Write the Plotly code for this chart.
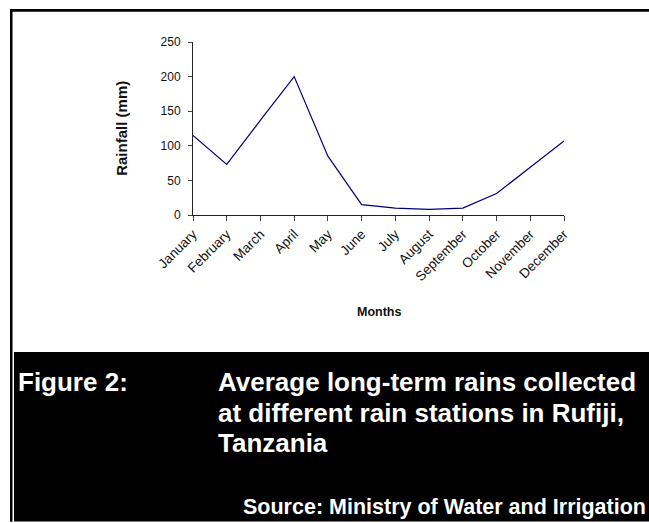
import plotly.graph_objects as go

months = ["January", "February", "March", "April", "May", "June", "July",
          "August", "September", "October", "November", "December"]
rainfall_mm = [115, 73, 137, 200, 85, 15, 10, 8, 10, 31, 69, 107]
y_ticks = [0, 50, 100, 150, 200, 250]

W, H = 649, 523
ML, MR, MT, MB = 193, 85, 42, 308
PW, PH = W - ML - MR, H - MT - MB


def px(xp):
    return (xp - ML) / PW


def py(yp):
    return (H - MB - yp) / PH


FONT = "Liberation Sans, Arial, sans-serif"

fig = go.Figure()
fig.add_trace(go.Scatter(x=months, y=rainfall_mm, mode="lines",
                         line=dict(color="#00007f", width=1.2),
                         hoverinfo="x+y", showlegend=False))

fig.update_layout(
    width=W, height=H,
    margin=dict(l=ML, r=MR, t=MT, b=MB, pad=0),
    paper_bgcolor="white", plot_bgcolor="white",
    font=dict(family=FONT, color="#111111", size=12),
    xaxis=dict(type="category", range=[0, len(months) - 1],
               showline=True, linecolor="#222222", linewidth=1,
               ticks="outside", ticklen=5, tickcolor="#444444",
               tickangle=-45, showgrid=False, zeroline=False,
               tickfont=dict(size=13.5, family=FONT, color="#111111")),
    yaxis=dict(range=[0, 250], tickvals=y_ticks,
               showline=True, linecolor="#222222", linewidth=1,
               ticks="outside", ticklen=4, tickcolor="#444444",
               showgrid=False, zeroline=False, ticklabelstandoff=5,
               tickfont=dict(size=12, family=FONT, color="#111111")),
)

shapes = [
    # caption box
    dict(type="rect", xref="paper", yref="paper",
         x0=px(14), x1=px(660), y0=py(352), y1=py(521.5),
         fillcolor="black", line=dict(width=0), layer="below"),
    # outer frame: top and left
    dict(type="rect", xref="paper", yref="paper",
         x0=px(10), x1=px(660), y0=py(9), y1=py(11.7),
         fillcolor="black", line=dict(width=0)),
    dict(type="rect", xref="paper", yref="paper",
         x0=px(10), x1=px(12.5), y0=py(9), y1=py(521.7),
         fillcolor="black", line=dict(width=0)),
]
fig.update_layout(shapes=shapes)

ann = [
    dict(text="<b>Rainfall (mm)</b>", x=px(122), y=py(128.8), textangle=-90,
         font=dict(size=15, family=FONT, color="#111111")),
    dict(text="<b>Months</b>", x=px(379), y=py(311.5),
         font=dict(size=12.5, family=FONT, color="#111111")),
    dict(text="<b>Figure 2:</b>", x=px(16), y=py(382), xanchor="left",
         font=dict(size=26, family=FONT, color="white")),
    dict(text="<b>Average long-term rains collected</b>", x=px(216), y=py(382), xanchor="left",
         font=dict(size=26, family=FONT, color="white")),
    dict(text="<b>at different rain stations in Rufiji,</b>", x=px(216), y=py(412.5), xanchor="left",
         font=dict(size=26, family=FONT, color="white")),
    dict(text="<b>Tanzania</b>", x=px(216), y=py(443), xanchor="left",
         font=dict(size=26, family=FONT, color="white")),
    dict(text="<b>Source: Ministry of Water and Irrigation</b>", x=px(241), y=py(507), xanchor="left",
         font=dict(size=21.5, family=FONT, color="white")),
]
for a in ann:
    a.update(xref="paper", yref="paper", showarrow=False)
    a.setdefault("xanchor", "center")
    a.setdefault("yanchor", "middle")
fig.update_layout(annotations=ann)

fig.write_html("out.html", config={"displayModeBar": False},
               post_script="document.body.style.margin='0';")
